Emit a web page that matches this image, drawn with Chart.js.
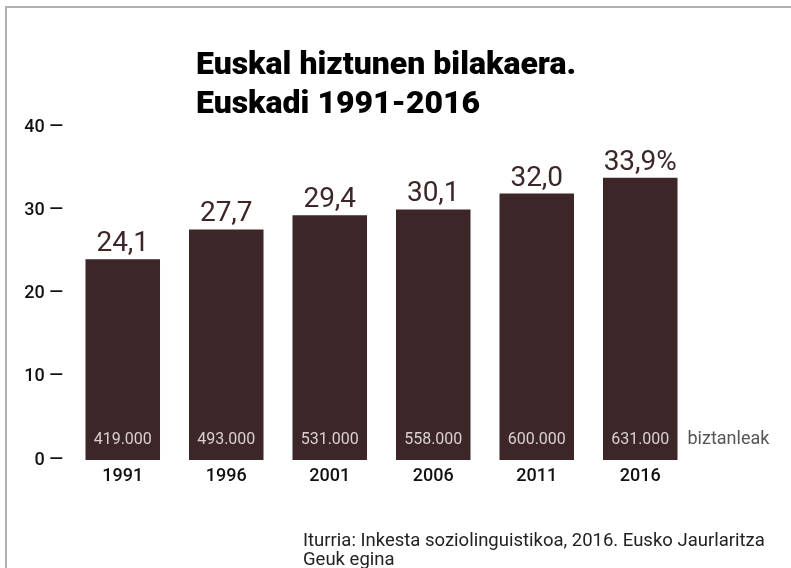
<!DOCTYPE html>
<html>
<head>
<meta charset="utf-8">
<script src="https://cdn.jsdelivr.net/npm/chart.js@4/dist/chart.umd.min.js"></script>
<style>
    html, body { margin: 0; padding: 0; background: #fff; }
    #wrap { position: relative; width: 791px; height: 568px; overflow: hidden; font-family: Roboto, sans-serif; }
    #frame { position: absolute; left: 5px; top: 6px; right: -10px; bottom: -10px; border-top: 2px solid #b0b0b0; border-left: 2px solid #b0b0b0; }
    #chart { position: absolute; left: 0; top: 0; }
    .title { position: absolute; left: 196px; font-weight: 900; font-size: 32px; color: #000; white-space: nowrap; line-height: 32px; }
    .source { position: absolute; left: 303px; font-size: 18.5px; color: #222; white-space: nowrap; line-height: 20px; }
</style>
</head>
<body>
<div id="wrap">
    <div id="frame"></div>
    <canvas id="chart" width="791" height="568"></canvas>
    <div class="title" style="top:47px">Euskal hiztunen bilakaera.</div>
    <div class="title" style="top:86px">Euskadi 1991-2016</div>
    <div class="source" style="top:530px">Iturria: Inkesta soziolinguistikoa, 2016. Eusko Jaurlaritza</div>
    <div class="source" style="top:549px">Geuk egina</div>
</div>
<script>
    // Data
    var years = ["1991", "1996", "2001", "2006", "2011", "2016"];
    var speakersPct = [24.1, 27.7, 29.4, 30.1, 32.0, 33.9];
    var speakersCount = ["419.000", "493.000", "531.000", "558.000", "600.000", "631.000"];
    var yTicks = [0, 10, 20, 30, 40];

    var barColor = "#3d2628";

    function formatPct(v, i) {
        var s = v.toFixed(1).replace(".", ",");
        return i === speakersPct.length - 1 ? s + "%" : s;
    }

    // draws the value above each bar and the head count inside it
    var barLabels = {
        id: "barLabels",
        afterDatasetsDraw: function (chart) {
            var ctx = chart.ctx;
            var meta = chart.getDatasetMeta(0);
            var bottom = chart.scales.y.getPixelForValue(0);
            ctx.save();
            ctx.textAlign = "center";
            meta.data.forEach(function (bar, i) {
                ctx.fillStyle = barColor;
                ctx.font = "400 28px Roboto";
                ctx.textBaseline = "alphabetic";
                ctx.fillText(formatPct(speakersPct[i], i), bar.x, bar.y - 8);

                ctx.fillStyle = "#d9d1d1";
                ctx.font = "400 16px Roboto";
                ctx.textBaseline = "middle";
                ctx.fillText(speakersCount[i], bar.x, bottom - 20);
            });
            var last = meta.data[meta.data.length - 1];
            ctx.textAlign = "left";
            ctx.fillStyle = "#555";
            ctx.font = "400 18px Roboto";
            ctx.fillText("biztanleak", last.x + last.width / 2 + 10, bottom - 21);
            ctx.restore();
        }
    };

    new Chart(document.getElementById("chart"), {
        type: "bar",
        data: {
            labels: years,
            datasets: [{
                data: speakersPct,
                backgroundColor: barColor,
                borderWidth: 0,
                barPercentage: 0.72,
                categoryPercentage: 1
            }]
        },
        options: {
            responsive: false,
            animation: false,
            layout: { padding: { left: 0, top: 127, right: 99, bottom: 78 } },
            plugins: {
                legend: { display: false },
                tooltip: { enabled: false },
                title: { display: false }
            },
            scales: {
                x: {
                    grid: { display: false, drawTicks: false },
                    border: { display: false },
                    afterFit: function (scale) { scale.height = 30; },
                    ticks: {
                        padding: 6,
                        color: "#111",
                        font: { family: "Roboto", size: 18, weight: "500" }
                    }
                },
                y: {
                    min: 0,
                    max: 40,
                    afterFit: function (scale) { scale.width = 71; },
                    afterBuildTicks: function (scale) {
                        scale.ticks = yTicks.map(function (v) { return { value: v }; });
                    },
                    grid: { display: false, drawTicks: false },
                    border: { display: false },
                    ticks: {
                        padding: 8,
                        color: "#111",
                        font: { family: "Roboto", size: 18, weight: "500" },
                        callback: function (v) { return v + " \u2014"; }
                    }
                }
            }
        },
        plugins: [barLabels]
    });
</script>
</body>
</html>
